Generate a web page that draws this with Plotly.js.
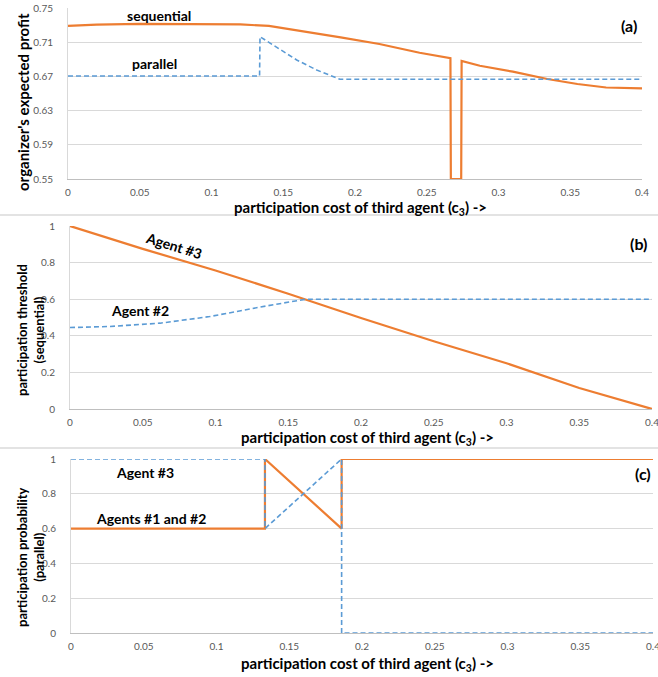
<!DOCTYPE html>
<html><head><meta charset="utf-8">
<script src="https://cdn.plot.ly/plotly-3.0.1.min.js"></script>
<style>html,body{margin:0;padding:0;background:#fff}</style>
</head><body><div id="chart" style="width:658px;height:677px"></div>
<script>
// Panel (a): organizer's expected profit
const seqX = [0, 0.02, 0.05, 0.08, 0.11, 0.12, 0.14, 0.166, 0.19, 0.217, 0.245, 0.2665, 0.2668, 0.274, 0.2743, 0.287, 0.31, 0.334, 0.355, 0.375, 0.4];
const seqY = [0.729, 0.7305, 0.7315, 0.7316, 0.7314, 0.7309, 0.729, 0.7223, 0.7157, 0.7079, 0.6977, 0.6912, 0.55, 0.55, 0.688, 0.6825, 0.6755, 0.667, 0.6611, 0.657, 0.656];
const parX = [0, 0.1335, 0.1338, 0.1431, 0.1594, 0.1733, 0.1895, 0.4];
const parY = [0.6705, 0.6705, 0.7164, 0.7067, 0.6892, 0.6775, 0.6666, 0.6666];

// Panel (b): participation threshold (sequential)
const thr3X = [0, 0.05, 0.1, 0.15, 0.2, 0.25, 0.3, 0.35, 0.4];
const thr3Y = [1, 0.875, 0.757, 0.63, 0.497, 0.37, 0.25, 0.115, 0];
const thr2X = [0, 0.0275, 0.062, 0.096, 0.1306, 0.158, 0.162, 0.4];
const thr2Y = [0.445, 0.451, 0.469, 0.505, 0.557, 0.596, 0.6, 0.6];

// Panel (c): participation probability (parallel)
const prob12X = [0, 0.1333, 0.1333, 0.186, 0.186, 0.4];
const prob12Y = [0.6, 0.6, 1, 0.6, 1, 1];
const prob3X = [0, 0.1333, 0.1333, 0.186, 0.186, 0.4];
const prob3Y = [1, 1, 0.6, 1, 0, 0];

// Tick labels
const xTickVals = [0, 0.05, 0.1, 0.15, 0.2, 0.25, 0.3, 0.35, 0.4];
const xTickText = ["0", "0.05", "0.1", "0.15", "0.2", "0.25", "0.3", "0.35", "0.4"];
const yTickValsA = [0.55, 0.59, 0.63, 0.67, 0.71, 0.75];
const yTickTextA = ["0.55", "0.59", "0.63", "0.67", "0.71", "0.75"];
const yTickValsBC = [0, 0.2, 0.4, 0.6, 0.8, 1];
const yTickTextBC = ["0", "0.2", "0.4", "0.6", "0.8", "1"];

const W = 658, H = 677;
const px = v => v / W;
const py = v => 1 - v / H;

const ORANGE = '#ED7D31', BLUE = '#5B9BD5';
const solid = {color: ORANGE, width: 2.2};
const dashed = {color: BLUE, width: 1.6, dash: '5px,3px'};

const traces = [
  {x: seqX, y: seqY, type: 'scatter', mode: 'lines', line: solid, xaxis: 'x', yaxis: 'y', name: 'sequential'},
  {x: parX, y: parY, type: 'scatter', mode: 'lines', line: dashed, xaxis: 'x', yaxis: 'y', name: 'parallel'},
  {x: thr3X, y: thr3Y, type: 'scatter', mode: 'lines', line: solid, xaxis: 'x2', yaxis: 'y2', name: 'Agent #3'},
  {x: thr2X, y: thr2Y, type: 'scatter', mode: 'lines', line: dashed, xaxis: 'x2', yaxis: 'y2', name: 'Agent #2'},
  {x: prob12X, y: prob12Y, type: 'scatter', mode: 'lines', line: solid, xaxis: 'x3', yaxis: 'y3', name: 'Agents #1 and #2'},
  {x: prob3X, y: prob3Y, type: 'scatter', mode: 'lines', line: dashed, xaxis: 'x3', yaxis: 'y3', name: 'Agent #3'}
];

const tickFont = {family: 'Lato, "Open Sans", sans-serif', size: 10, color: '#595959'};
function xAxis(dom, anchor) {
  return {domain: dom, anchor: anchor, range: [0, 0.4], tickvals: xTickVals, ticktext: xTickText,
    showgrid: false, zeroline: false, showline: true, linecolor: '#bfbfbf', linewidth: 1,
    ticks: '', tickfont: tickFont, ticklabelstandoff: 4, ticklabeloverflow: 'allow', fixedrange: true};
}
function yAxis(dom, anchor, range, tv, tt, standoff) {
  return {domain: dom, anchor: anchor, range: range, tickvals: tv, ticktext: tt,
    showgrid: true, gridcolor: '#d9d9d9', gridwidth: 1, zeroline: false,
    showline: true, linecolor: '#d9d9d9', linewidth: 1,
    ticks: '', tickfont: tickFont, ticklabelstandoff: standoff, ticklabeloverflow: 'allow', fixedrange: true};
}

const bold = 'Lato, "Open Sans", sans-serif';
function ann(text, x, y, size, extra) {
  return Object.assign({text: '<b>' + text + '</b>', xref: 'paper', yref: 'paper', x: px(x), y: py(y),
    xanchor: 'center', yanchor: 'middle', showarrow: false,
    font: {family: bold, size: size, color: '#000'}}, extra || {});
}
const xTitle = 'participation cost of third agent (c<sub>3</sub>) ->';

const layout = {
  width: W, height: H,
  margin: {l: 0, r: 0, t: 0, b: 0},
  paper_bgcolor: '#fff', plot_bgcolor: '#fff',
  showlegend: false,
  xaxis: xAxis([px(68), px(642)], 'y'),
  yaxis: yAxis([py(179), py(8)], 'x', [0.55, 0.75], yTickValsA, yTickTextA, 12),
  xaxis2: xAxis([px(70), px(652)], 'y2'),
  yaxis2: yAxis([py(409), py(226)], 'x2', [0, 1], yTickValsBC, yTickTextBC, 12),
  xaxis3: xAxis([px(71), px(653)], 'y3'),
  yaxis3: yAxis([py(633), py(459)], 'x3', [0, 1], yTickValsBC, yTickTextBC, 12),
  shapes: [
    {type: 'line', xref: 'paper', yref: 'paper', x0: 0, x1: 1, y0: py(215), y1: py(215), line: {color: '#e3e3e3', width: 2}},
    {type: 'line', xref: 'paper', yref: 'paper', x0: 0, x1: 1, y0: py(448), y1: py(448), line: {color: '#e3e3e3', width: 2}}
  ],
  annotations: [
    ann('sequential', 159, 16, 14),
    ann('parallel', 154, 64, 14),
    ann('(a)', 629, 25, 16),
    ann('(b)', 638, 243, 16),
    ann('(c)', 643, 473, 16),
    ann('Agent #3', 174, 245, 14, {textangle: 17}),
    ann('Agent #2', 140, 311, 14),
    ann('Agent #3', 145, 472, 14),
    ann('Agents #1 and #2', 151, 518, 14),
    ann(xTitle, 360, 208, 15),
    ann(xTitle, 367, 438, 15),
    ann(xTitle, 367, 664, 15),
    ann("organizer's expected profit", 23, 102, 15, {textangle: -90}),
    ann('participation threshold<br>(sequential)', 30, 330, 13, {textangle: -90}),
    ann('participation probability<br>(parallel)', 30, 557, 13, {textangle: -90})
  ]
};

Plotly.newPlot('chart', traces, layout, {displayModeBar: false, staticPlot: true});
</script>
</body></html>
